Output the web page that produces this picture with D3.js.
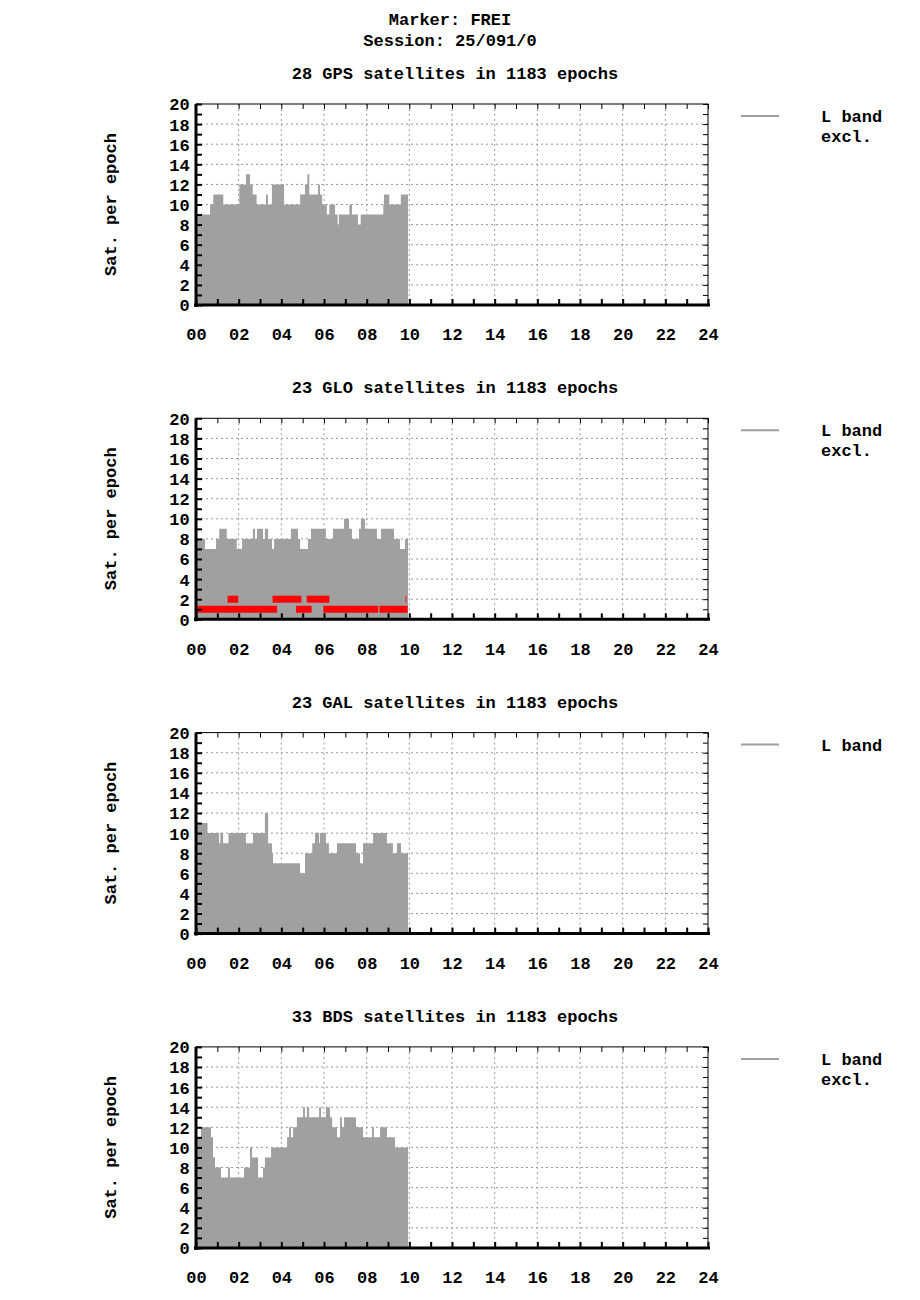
<!DOCTYPE html>
<html><head><meta charset="utf-8">
<script src="https://cdn.jsdelivr.net/npm/d3@7"></script>
<style>body{margin:0;background:#fff}text{font-family:"Liberation Mono",monospace;font-weight:bold}</style>
</head><body><svg id="c" width="920" height="1300"></svg>
<script>
// step data: [start hour, sats]; each step lasts until the next one
const gpsSteps = [[0.03,9],[0.66,10],[0.81,11],[1.28,10],[2.03,12],[2.34,13],[2.53,12],[2.66,11],[2.84,10],[3.28,11],[3.37,10],[3.56,12],[4.13,10],[4.88,11],[5.11,12],[5.22,13],[5.31,11],[5.72,12],[5.81,11],[5.91,10],[6.13,9],[6.25,10],[6.52,9],[6.64,8],[6.70,9],[7.19,10],[7.31,9],[7.59,8],[7.72,9],[8.78,10],[8.81,11],[9.06,10],[9.60,11],[9.94,0]];
const gloSteps = [[0.03,8],[0.42,7],[0.94,8],[1.09,9],[1.44,8],[1.91,7],[2.16,8],[2.67,9],[2.77,8],[2.86,9],[3.14,8],[3.23,9],[3.38,8],[3.56,7],[3.66,8],[4.45,9],[4.78,8],[4.88,7],[5.25,8],[5.39,9],[6.09,8],[6.42,9],[6.94,10],[7.17,9],[7.31,8],[7.64,9],[7.73,10],[7.92,9],[8.48,8],[8.67,9],[9.28,8],[9.56,7],[9.80,8],[9.94,0]];
const galSteps = [[0.03,11],[0.54,10],[1.08,9],[1.14,10],[1.27,9],[1.52,10],[2.34,9],[2.67,10],[3.23,12],[3.38,9],[3.56,8],[3.61,7],[4.88,6],[5.11,8],[5.45,9],[5.58,10],[5.77,9],[5.81,10],[6.09,9],[6.23,8],[6.61,9],[7.50,8],[7.69,7],[7.83,9],[8.30,10],[8.95,9],[9.23,8],[9.42,9],[9.61,8],[9.94,0]];
const bdsSteps = [[0.03,11],[0.23,12],[0.70,11],[0.80,9],[0.89,8],[1.17,7],[1.50,8],[1.59,7],[2.25,8],[2.53,10],[2.63,9],[2.91,7],[3.14,8],[3.23,9],[3.52,10],[4.27,11],[4.36,12],[4.45,11],[4.55,12],[4.73,13],[5.02,14],[5.11,13],[5.20,14],[5.30,13],[5.53,13],[5.77,14],[5.86,13],[6.09,14],[6.19,14],[6.28,13],[6.38,12],[6.61,11],[6.75,13],[6.84,12],[6.94,13],[7.50,12],[7.83,11],[8.25,12],[8.34,11],[8.63,12],[8.95,11],[9.33,10],[9.94,0]];
// excluded satellites: [hour, count]
const gpsExcl = [[0.23,1],[0.84,1],[1.03,1],[1.34,1],[2.22,1],[2.34,1],[2.41,1],[2.34,2],[3.31,1],[3.84,1],[5.86,1],[7.27,1],[8.81,1],[8.97,1]];
const bdsExcl = [[0.38,1],[0.98,1],[4.36,1],[4.78,1],[5.81,1],[6.80,1],[7.78,1]];
// GLO exclusions are dense runs: [from hour, to hour, count]
const gloExclRuns = [[0.03,3.80,1],[4.69,5.42,1],[5.97,8.54,1],[8.60,9.92,1],[1.48,1.98,2],[3.59,4.94,2],[5.19,6.25,2],[9.82,9.86,2]];
const panels = [
  {title:"28 GPS satellites in 1183 epochs", steps:gpsSteps, excl:gpsExcl, runs:[], legendExcl:true},
  {title:"23 GLO satellites in 1183 epochs", steps:gloSteps, excl:[], runs:gloExclRuns, legendExcl:true},
  {title:"23 GAL satellites in 1183 epochs", steps:galSteps, excl:[], runs:[], legendExcl:false},
  {title:"33 BDS satellites in 1183 epochs", steps:bdsSteps, excl:bdsExcl, runs:[], legendExcl:true}
];
const xTicks = d3.range(0,25,2);
const yTicks = d3.range(0,21,2);

const svg = d3.select("#c");
svg.append("text").attr("x",450).attr("y",25).attr("text-anchor","middle").attr("font-size",17).text("Marker: FREI");
svg.append("text").attr("x",450).attr("y",46).attr("text-anchor","middle").attr("font-size",17).text("Session: 25/091/0");

const x = d3.scaleLinear().domain([0,24]).range([196,708]);
const cross = d3.symbol().type(d3.symbolX).size(22);

panels.forEach((p,i) => {
  const top = 104 + i*314.3, bot = top + 201;
  const y = d3.scaleLinear().domain([0,20]).range([bot,top]);
  const g = svg.append("g");
  g.append("text").attr("x",455).attr("y",top-25).attr("text-anchor","middle").attr("font-size",17).text(p.title);
  // grid
  g.selectAll(".gx").data(xTicks.slice(1,-1)).join("line").attr("x1",x).attr("x2",x).attr("y1",top).attr("y2",bot)
    .attr("stroke","#999").attr("stroke-dasharray","2,3");
  g.selectAll(".gy").data(yTicks.slice(1,-1)).join("line").attr("y1",y).attr("y2",y).attr("x1",196).attr("x2",708)
    .attr("stroke","#999").attr("stroke-dasharray","2,3");
  // steps
  const area = d3.area().curve(d3.curveStepAfter).x(d=>x(d[0])).y0(bot).y1(d=>y(d[1]));
  g.append("path").datum(p.steps).attr("d",area).attr("fill","#a0a0a0");
  // exclusions
  p.runs.forEach(r => {
    g.append("line").attr("x1",x(r[0])).attr("x2",x(r[1])).attr("y1",y(r[2])).attr("y2",y(r[2]))
      .attr("stroke","red").attr("stroke-width",7);
    [r[0],r[1]].forEach(h => g.append("path").attr("d",cross).attr("transform",`translate(${x(h)},${y(r[2])})`).attr("fill","red"));
  });
  g.selectAll(".ex").data(p.excl).join("path").attr("d",cross)
    .attr("transform",d=>`translate(${x(d[0])},${y(d[1])})`).attr("fill","red");
  // frame
  g.append("rect").attr("x",196).attr("y",top).attr("width",512).attr("height",201).attr("fill","none").attr("stroke","#000").attr("stroke-width",1);
  g.append("line").attr("x1",196).attr("x2",196).attr("y1",top).attr("y2",bot+2).attr("stroke","#000").attr("stroke-width",3);
  g.append("line").attr("x1",194).attr("x2",710).attr("y1",bot).attr("y2",bot).attr("stroke","#000").attr("stroke-width",3);
  const xa = d3.axisBottom(x).tickValues(d3.range(0,25,1)).tickSize(-6).tickFormat(d=>d%2?"":d3.format("02")(d));
  const xg = g.append("g").attr("transform",`translate(0,${bot})`).call(xa);
  xg.select(".domain").remove();
  xg.selectAll("line").attr("stroke-width",2);
  xg.selectAll("text").attr("font-size",17).attr("fill","#000").attr("dy","1.9em");
  const xt = g.append("g").attr("transform",`translate(0,${top})`).call(d3.axisTop(x).tickValues(d3.range(0,25,1)).tickSize(-5).tickFormat(""));
  xt.select(".domain").remove();
  const ya = d3.axisLeft(y).tickValues(d3.range(0,21,1)).tickSize(-6).tickFormat(d=>d%2?"":d);
  const yg = g.append("g").attr("transform","translate(196,0)").call(ya);
  yg.select(".domain").remove();
  yg.selectAll("line").attr("stroke-width",2);
  yg.selectAll("text").attr("font-size",17).attr("fill","#000").attr("dx","-0.2em").attr("dy","0.35em");
  const yr = g.append("g").attr("transform","translate(708,0)").call(d3.axisRight(y).tickValues(d3.range(0,21,1)).tickSize(-5).tickFormat(""));
  yr.select(".domain").remove();
  g.append("text").attr("transform",`translate(116,${(top+bot)/2}) rotate(-90)`).attr("text-anchor","middle").attr("font-size",17).text("Sat. per epoch");
  // legend
  g.append("line").attr("x1",741).attr("x2",779).attr("y1",top+12).attr("y2",top+12).attr("stroke","#a0a0a0").attr("stroke-width",2);
  g.append("text").attr("x",821).attr("y",top+18).attr("font-size",17).text("L band");
  if (p.legendExcl) {
    g.append("path").attr("d",cross).attr("transform",`translate(774,${top+32})`).attr("fill","red");
    g.append("text").attr("x",821).attr("y",top+38).attr("font-size",17).text("excl.");
  }
});
</script></body></html>
